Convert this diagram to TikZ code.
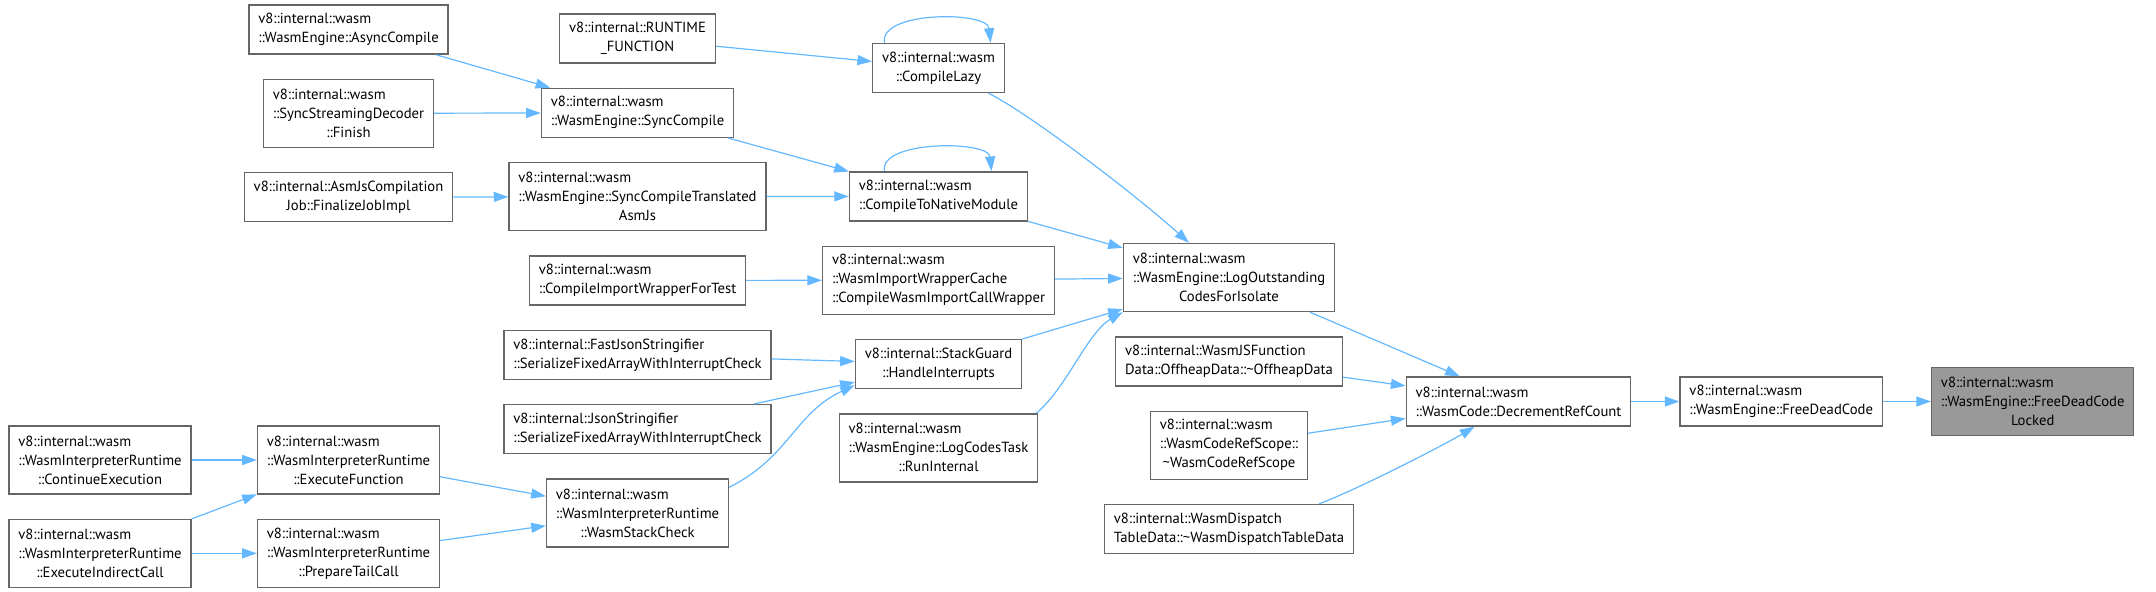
\documentclass[tikz,border=0pt]{standalone}
\usepackage{fontspec}
\setmainfont{PT Sans}
\usepackage{tikz}
\usetikzlibrary{arrows.meta,positioning,calc}
\definecolor{callblue}{HTML}{63B8FF}
\definecolor{boxgray}{HTML}{666666}
\definecolor{hilite}{HTML}{999999}
\newcommand{\lastrow}[1]{\hfill#1\hfill\null}
\tikzset{box/.style={draw=boxgray,fill=white,line width=1pt,align=left,
  inner xsep=7pt,inner ysep=2pt,minimum height=36.75pt,
  font=\fontsize{11}{14.25}\selectfont},
  tall/.style={box,minimum height=51pt},
  flow/.style={-{Triangle[length=11pt,width=7.5pt]},line width=0.9pt,draw=callblue}}

\begin{document}
\begin{tikzpicture}[x=0.75pt,y=-0.75pt,node distance=18pt]
\useasboundingbox (0,0) rectangle (2156,592);
% interpreter callers
\node[tall] (contexec) at (100,460) {v8::internal::wasm\\::WasmInterpreterRuntime\\\lastrow{::ContinueExecution}};
\node[tall,below=of contexec] (indirect) {v8::internal::wasm\\::WasmInterpreterRuntime\\\lastrow{::ExecuteIndirectCall}};
\node[box] (async) at (348.5,29.5) {v8::internal::wasm\\::WasmEngine::AsyncCompile};
\node[tall,below=of async] (decoder) {v8::internal::wasm\\::SyncStreamingDecoder\\\lastrow{::Finish}};
\node[box,below=of decoder] (asmjob) {v8::internal::AsmJsCompilation\\\lastrow{Job::FinalizeJobImpl}};
\node[tall] (execfn) at (348.5,460) {v8::internal::wasm\\::WasmInterpreterRuntime\\\lastrow{::ExecuteFunction}};
\node[tall,below=of execfn] (tailcall) {v8::internal::wasm\\::WasmInterpreterRuntime\\\lastrow{::PrepareTailCall}};
% third column
\node[box] (runtime) at (637.5,38.5) {v8::internal::RUNTIME\\\lastrow{\_FUNCTION}};
\node[box,below=of runtime] (sync) {v8::internal::wasm\\::WasmEngine::SyncCompile};
\node[tall,below=of sync] (translated) {v8::internal::wasm\\::WasmEngine::SyncCompileTranslated\\\lastrow{AsmJs}};
\node[box,below=of translated] (importtest) {v8::internal::wasm\\::CompileImportWrapperForTest};
\node[box,below=of importtest] (fastjson) {v8::internal::FastJsonStringifier\\::SerializeFixedArrayWithInterruptCheck};
\node[box,below=of fastjson] (jsonstr) {v8::internal::JsonStringifier\\::SerializeFixedArrayWithInterruptCheck};
\node[tall,below=of jsonstr] (stackcheck) {v8::internal::wasm\\::WasmInterpreterRuntime\\\lastrow{::WasmStackCheck}};
% fourth column
\node[box] (lazy) at (938.5,68) {v8::internal::wasm\\\lastrow{::CompileLazy}};
\node[box,below=58.5pt of lazy] (native) {v8::internal::wasm\\::CompileToNativeModule};
\node[tall,below=of native] (wrapcache) {v8::internal::wasm\\::WasmImportWrapperCache\\::CompileWasmImportCallWrapper};
\node[box,below=of wrapcache] (guard) {v8::internal::StackGuard\\\lastrow{::HandleInterrupts}};
\node[tall,below=of guard] (logtask) {v8::internal::wasm\\::WasmEngine::LogCodesTask\\\lastrow{::RunInternal}};
% fifth column
\node[tall] (logout) at (1229,277.5) {v8::internal::wasm\\::WasmEngine::LogOutstanding\\\lastrow{CodesForIsolate}};
\node[box,below=of logout] (jsfunc) {v8::internal::WasmJSFunction\\Data::OffheapData::\textasciitilde OffheapData};
\node[tall,below=of jsfunc] (refscope) {v8::internal::wasm\\::WasmCodeRefScope::\\\lastrow{\textasciitilde WasmCodeRefScope}};
\node[box,below=of refscope] (dispatch) {v8::internal::WasmDispatch\\TableData::\textasciitilde WasmDispatchTableData};
% freeing chain
\node[box] (decref) at (1518.5,401.5) {v8::internal::wasm\\::WasmCode::DecrementRefCount};
\node[box,right=36pt of decref] (freedead) {v8::internal::wasm\\::WasmEngine::FreeDeadCode};
\node[tall,fill=hilite,right=36pt of freedead] (locked) {v8::internal::wasm\\::WasmEngine::FreeDeadCode\\\lastrow{Locked}};
\draw[flow] (async)--(sync);
\draw[flow] (decoder)--(sync);
\draw[flow] (asmjob)--(translated);
\draw[flow] (runtime)--(lazy);
\draw[flow] ([shift={(-54,0)}]lazy.north) .. controls +(-6,-32) and +(-3,-32) .. ([shift={(52,0)}]lazy.north);
\draw[flow] (sync)--(native);
\draw[flow] (translated)--(native);
\draw[flow] ([shift={(-54,0)}]native.north) .. controls +(-6,-31) and +(-3,-31) .. ([shift={(53,0)}]native.north);
\draw[flow] ([shift={(50,0)}]lazy.south) .. controls +(45,23) and +(-50,-45) .. ([shift={(-40,0)}]logout.north);
\draw[flow] (native)--(logout);
\draw[flow] (importtest)--(wrapcache);
\draw[flow] (wrapcache)--(logout);
\draw[flow] (guard)--(logout);
\draw[flow] ([shift={(-2,0)}]logtask.north east) .. controls +(30,-25) and +(-35,20) .. (logout.south west);
\draw[flow] (fastjson)--(guard);
\draw[flow] (jsonstr)--(guard);
\draw[flow] ([shift={(0,9)}]stackcheck.north east) .. controls +(60,-30) and +(-60,28) .. ([shift={(0,-4)}]guard.south west);
\draw[flow] (contexec)--(execfn);
\draw[flow] (indirect)--(execfn);
\draw[flow] (indirect)--(tailcall);
\draw[flow] (execfn)--(stackcheck);
\draw[flow] (tailcall)--(stackcheck);
\draw[flow] (logout)--(decref);
\draw[flow] (jsfunc)--(decref);
\draw[flow] (refscope)--(decref);
\draw[flow] ([shift={(90,0)}]dispatch.north) .. controls +(40,-15) and +(-30,18) .. ([shift={(-44,0)}]decref.south);
\draw[flow] (decref)--(freedead);
\draw[flow] (freedead)--(locked);
\end{tikzpicture}
\end{document}
